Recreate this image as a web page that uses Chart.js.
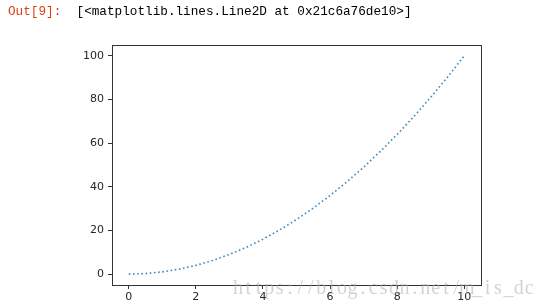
<!DOCTYPE html>
<html>
<head>
<meta charset="utf-8">
<script src="https://cdn.jsdelivr.net/npm/chart.js@4"></script>
<style>
  body { margin: 0; background: #fff; }
  #wrap { position: relative; width: 546px; height: 308px; overflow: hidden; }
  #out {
    position: absolute; left: 8px; top: 4px;
    font: 12.7px "Liberation Mono", "DejaVu Sans Mono", monospace;
    white-space: pre; color: #000;
  }
  #out span { color: #d84315; }
  canvas { position: absolute; left: 0; top: 0; }
</style>
</head>
<body>
<div id="wrap">
  <canvas id="chart" width="546" height="308"></canvas>
  <div id="out"><span>Out[9]:</span>  [&lt;matplotlib.lines.Line2D at 0x21c6a76de10&gt;]</div>
</div>
<script>
// points
const xValues = [0, 0.5, 1, 1.5, 2, 2.5, 3, 3.5, 4, 4.5, 5, 5.5, 6, 6.5, 7, 7.5, 8, 8.5, 9, 9.5, 10];
const yValues = [0, 0.25, 1, 2.25, 4, 6.25, 9, 12.25, 16, 20.25, 25, 30.25, 36, 42.25, 49, 56.25, 64, 72.25, 81, 90.25, 100];
const xTicks = [0, 2, 4, 6, 8, 10];
const yTicks = [0, 20, 40, 60, 80, 100];

const points = xValues.map((x, i) => ({ x: x, y: yValues[i] }));

// top/right spines + csdn watermark
const framePlugin = {
    id: "frame",
    afterDraw(chart) {
        const ctx = chart.ctx;
        const a = chart.chartArea;
        ctx.save();
        ctx.strokeStyle = "#333";
        ctx.lineWidth = 1;
        ctx.strokeRect(a.left + 0.5, a.top + 0.5, a.right - a.left, a.bottom - a.top);

        // watermark, one char per fixed cell
        const mark = "https://blog.csdn.net/m_is_dc";
        ctx.font = '20px "Liberation Serif", serif';
        ctx.fillStyle = "rgba(175,175,165,0.55)";
        ctx.textBaseline = "middle";
        ctx.textAlign = "center";
        for (let i = 0; i < mark.length; i++) {
            ctx.fillText(mark[i], 238 + i * 10.4, 289);
        }
        ctx.restore();
    }
};

const tickFont = { family: "DejaVu Sans", size: 11 };

new Chart(document.getElementById("chart"), {
    type: "scatter",
    data: {
        datasets: [
            {
                data: points,
                showLine: true,
                borderColor: "#3a8ac4",
                borderWidth: 1.6,
                borderDash: [1.6, 2.6],
                pointRadius: 0,
                tension: 0,
            },
        ],
    },
    options: {
        responsive: false,
        animation: false,
        layout: { padding: { left: 0, top: 45, right: 65, bottom: 0 } },
        plugins: { legend: { display: false }, tooltip: { enabled: false } },
        scales: {
            x: {
                type: "linear",
                min: -0.5,
                max: 10.5,
                afterFit: (s) => { s.height = 23; },
                afterBuildTicks: (s) => { s.ticks = xTicks.map((v) => ({ value: v })); },
                ticks: { font: tickFont, color: "#262626", padding: 2, maxRotation: 0 },
                grid: { drawOnChartArea: false, tickLength: 4, color: "#333" },
                border: { color: "#333" },
            },
            y: {
                min: -5,
                max: 105,
                afterFit: (s) => { s.width = 112; },
                afterBuildTicks: (s) => { s.ticks = yTicks.map((v) => ({ value: v })); },
                ticks: { font: tickFont, color: "#262626", padding: 4 },
                grid: { drawOnChartArea: false, tickLength: 4, color: "#333" },
                border: { color: "#333" },
            },
        },
    },
    plugins: [framePlugin],
});
</script>
</body>
</html>
